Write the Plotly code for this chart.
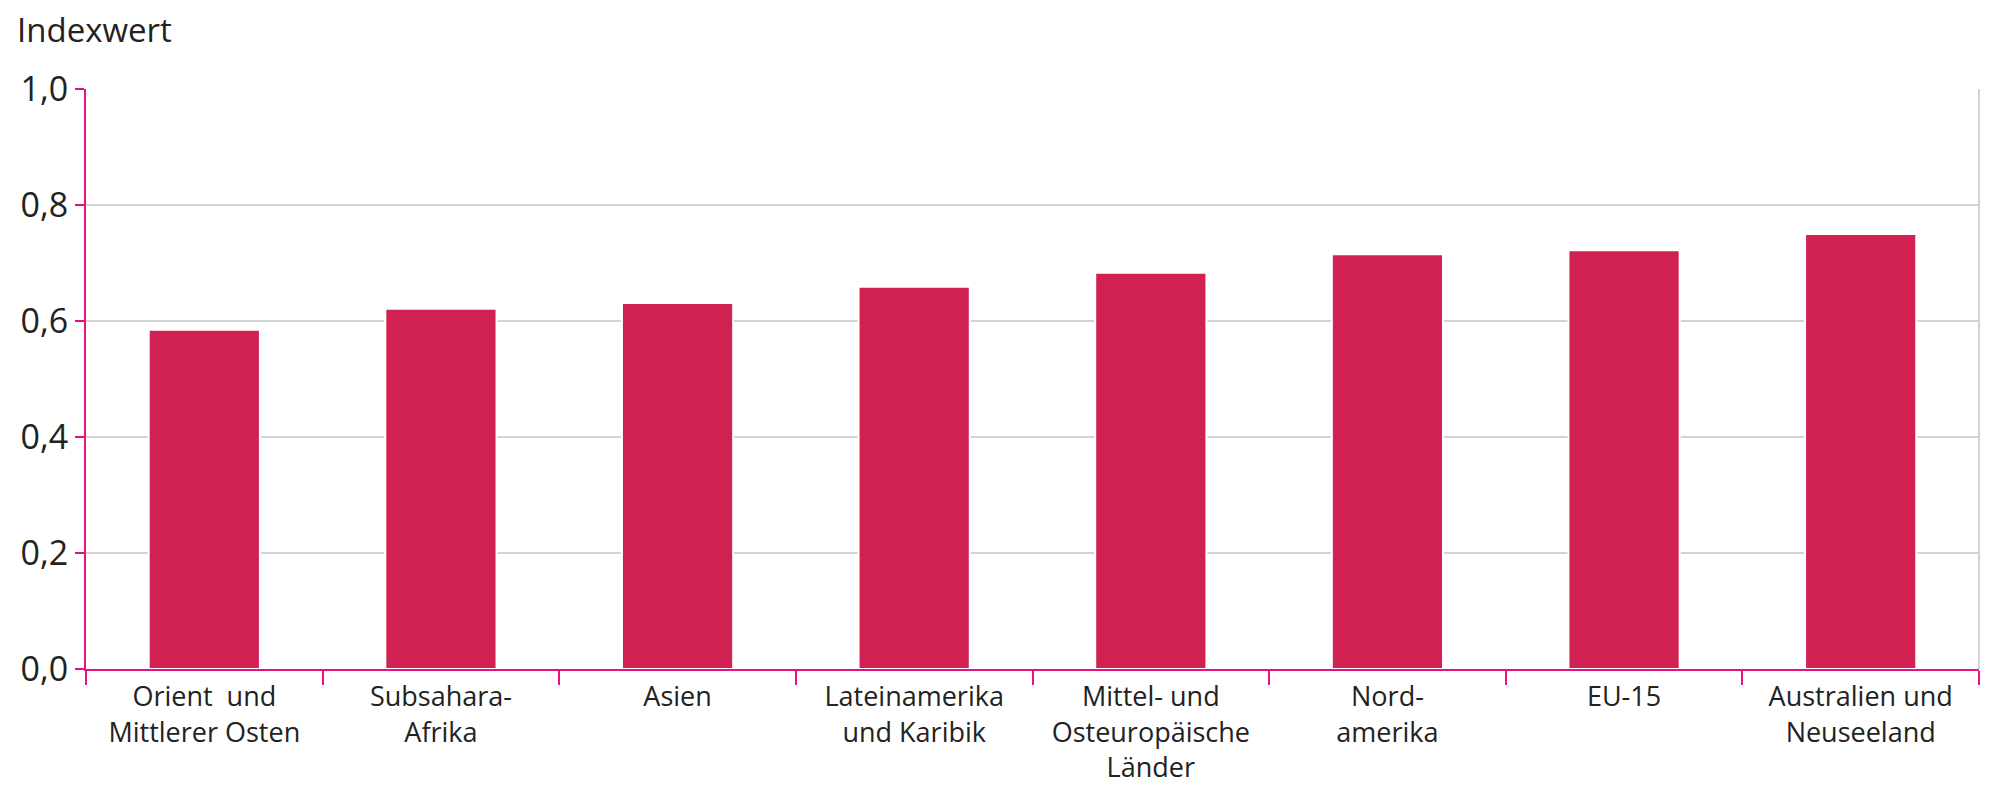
import plotly.graph_objects as go

# regions (x-axis categories), line breaks as in the source
regions = [
    "Orient  und<br>Mittlerer Osten",
    "Subsahara-<br>Afrika",
    "Asien",
    "Lateinamerika<br>und Karibik",
    "Mittel- und<br>Osteuropäische<br>Länder",
    "Nord-<br>amerika",
    "EU-15",
    "Australien und<br>Neuseeland",
]
index_values = [0.585, 0.621, 0.631, 0.659, 0.683, 0.715, 0.722, 0.750]
y_ticks = [0.0, 0.2, 0.4, 0.6, 0.8, 1.0]

BAR_COLOR = "#D12052"
AXIS_COLOR = "#E8117F"
GRID_COLOR = "#D3D3D3"
TEXT_COLOR = "#222222"
FONT = "Open Sans, Noto Sans, sans-serif"

fig = go.Figure()
fig.add_trace(go.Bar(
    x=regions,
    y=index_values,
    marker=dict(color=BAR_COLOR, line=dict(color="white", width=2)),
    showlegend=False,
))

# the page body adds an 8px margin, so the figure is a bit smaller than the window
fig.update_layout(
    width=1975,
    height=779,
    paper_bgcolor="white",
    plot_bgcolor="white",
    margin=dict(l=78, r=4, t=81, b=118),
    bargap=0.53,
    separators=",.",
    font=dict(family=FONT, color=TEXT_COLOR),
    xaxis=dict(
        showline=True, linecolor=AXIS_COLOR, linewidth=2,
        ticks="outside", tickson="boundaries", ticklen=14, tickwidth=2,
        tickcolor=AXIS_COLOR, ticklabelstandoff=3, automargin=False,
        tickfont=dict(size=27, family=FONT, color=TEXT_COLOR),
        showgrid=False,
    ),
    yaxis=dict(
        range=[0, 1.0], tickvals=y_ticks, tickformat=".1f",
        showline=True, linecolor=AXIS_COLOR, linewidth=2,
        ticks="outside", ticklen=9, tickwidth=2, tickcolor=AXIS_COLOR,
        tickfont=dict(size=34, family=FONT, color=TEXT_COLOR),
        showgrid=True, gridcolor=GRID_COLOR, gridwidth=2,
        zeroline=False, automargin=False,
    ),
    annotations=[
        dict(text="Indexwert", showarrow=False, xref="paper", yref="paper",
             x=-0.0375, y=1.102, xanchor="left", yanchor="middle",
             font=dict(size=33, family=FONT, color=TEXT_COLOR)),
    ],
    shapes=[
        dict(type="line", xref="paper", yref="paper", x0=1, x1=1, y0=0, y1=1,
             line=dict(color=GRID_COLOR, width=2), layer="below"),
    ],
)

fig.write_html("out.html")
